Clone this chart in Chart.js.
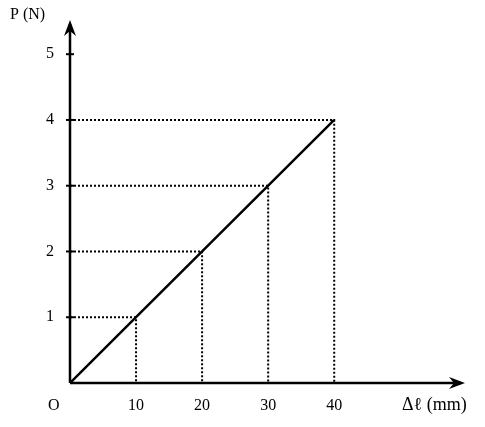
<!DOCTYPE html>
<html lang="en">
<head>
<meta charset="UTF-8" />
<title>P vs extension</title>
<style>
  body { margin: 0; background: #fff; }
  .wrap { width: 485px; height: 427px; }
</style>
</head>
<body>
<div class="wrap"><canvas id="c" width="485" height="427"></canvas></div>
<script src="https://cdn.jsdelivr.net/npm/chart.js"></script>
<script>
// data
const extensions = [10, 20, 30, 40];   // Δℓ (mm)
const forces = [1, 2, 3, 4];           // P (N)
const xTicks = [10, 20, 30, 40];
const yTicks = [1, 2, 3, 4, 5];

const FONT = '16px "Liberation Serif", "DejaVu Serif", serif';

// dotted guides from each point to both axes
const guideSets = extensions.map((x, i) => ({
  data: [{ x: 0, y: forces[i] }, { x: x, y: forces[i] }, { x: x, y: 0 }],
  borderColor: '#000',
  borderWidth: 2,
  borderDash: [2, 2],
  pointRadius: 0,
  fill: false
}));

const mainLine = {
  data: [{ x: 0, y: 0 }].concat(extensions.map((x, i) => ({ x: x, y: forces[i] }))),
  borderColor: '#000',
  borderWidth: 2.5,
  pointRadius: 0,
  fill: false
};

// draws the arrowed axes, tick marks and labels
const axesPlugin = {
  id: 'axes',
  afterDatasetsDraw(chart) {
    const { ctx, chartArea: a, scales: { x, y } } = chart;
    const ox = x.getPixelForValue(0), oy = y.getPixelForValue(0);
    ctx.save();
    ctx.strokeStyle = '#000';
    ctx.fillStyle = '#000';
    ctx.lineWidth = 2.5;
    ctx.beginPath();
    ctx.moveTo(ox, oy); ctx.lineTo(a.right - 4, oy);
    ctx.moveTo(ox, oy); ctx.lineTo(ox, a.top + 4);
    ctx.stroke();
    // arrow heads
    ctx.beginPath();
    ctx.moveTo(a.right, oy); ctx.lineTo(a.right - 16, oy - 6); ctx.lineTo(a.right - 11, oy); ctx.lineTo(a.right - 16, oy + 6);
    ctx.closePath(); ctx.fill();
    ctx.beginPath();
    ctx.moveTo(ox, a.top); ctx.lineTo(ox - 6, a.top + 16); ctx.lineTo(ox, a.top + 11); ctx.lineTo(ox + 6, a.top + 16);
    ctx.closePath(); ctx.fill();

    ctx.font = FONT;
    ctx.lineWidth = 2;
    ctx.textAlign = 'center';
    ctx.textBaseline = 'top';
    xTicks.forEach(v => ctx.fillText(String(v), x.getPixelForValue(v), oy + 15));
    ctx.textAlign = 'right';
    ctx.textBaseline = 'middle';
    yTicks.forEach(v => {
      const py = y.getPixelForValue(v);
      ctx.beginPath(); ctx.moveTo(ox - 4, py); ctx.lineTo(ox + 4, py); ctx.stroke();
      ctx.fillText(String(v), ox - 16, py);
    });
    ctx.textAlign = 'left';
    ctx.textBaseline = 'top';
    ctx.fillText('O', 48, oy + 15);
    ctx.fillText('P (N)', 10, 7);
    ctx.font = '18px "Liberation Serif", "DejaVu Serif", serif';
    ctx.fillText('Δℓ (mm)', 402, oy + 13);
    ctx.restore();
  }
};

new Chart(document.getElementById('c'), {
  type: 'line',
  data: { datasets: guideSets.concat([mainLine]) },
  options: {
    responsive: false,
    animation: false,
    layout: { padding: { left: 70, right: 20, top: 20, bottom: 44 } },
    plugins: { legend: { display: false }, tooltip: { enabled: false } },
    scales: {
      x: { type: 'linear', display: false, min: 0, max: 59.8 },
      y: { type: 'linear', display: false, min: 0, max: 5.52 }
    }
  },
  plugins: [axesPlugin]
});
</script>
</body>
</html>
